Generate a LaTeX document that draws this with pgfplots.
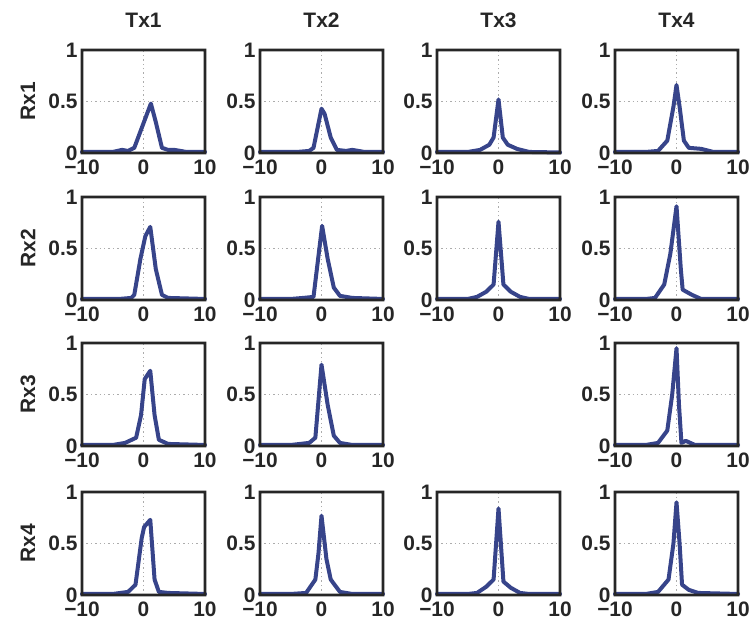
\documentclass[border=0pt]{standalone}
\usepackage{fontspec}
\setmainfont{Liberation Sans}
\usepackage{pgfplots}
\pgfplotsset{compat=1.18}
\definecolor{curve}{RGB}{55,68,138}
\tikzset{cv/.style={draw=curve, line width=4bp, line join=round, line cap=round, mark=none}}
\pgfplotsset{panel/.style={
  scale only axis, width=123bp, height=103bp,
  xmin=-10, xmax=10, ymin=0, ymax=1,
  xtick={-10,0,10}, ytick={0,0.5,1},
  xticklabels={−10,0,10}, yticklabels={0,0.5,1},
  grid=major, major grid style={line width=1.4bp, dash pattern=on 1.4bp off 3bp, gray!65},
  major tick length=0pt,
  axis line style={draw=none},
  tick label style={font=\bfseries\fontsize{21}{21}\selectfont, text=black!85},
  xticklabel style={yshift=-3bp},
  yticklabel style={xshift=-1bp},
  anchor=north west, clip=false,
  after end axis/.code={\fill[black!85, even odd rule]
     ([shift={(-1.4bp,-1.4bp)}]rel axis cs:0,0) rectangle ([shift={(1.4bp,1.4bp)}]rel axis cs:1,1)
     ([shift={(1.4bp,1.4bp)}]rel axis cs:0,0) rectangle ([shift={(-1.4bp,-1.4bp)}]rel axis cs:1,1);},
}}
\begin{document}
\begin{tikzpicture}[x=1bp,y=1bp]
\path[use as bounding box] (0,0) rectangle (756,633);
% Row 1
\begin{axis}[panel, at={(82bp,583bp)}]
\addplot[cv] coordinates {(-10,0.01) (-5,0.01) (-3.5,0.03) (-2.5,0.02) (-1.5,0.05) (1.2,0.48) (2,0.3) (3,0.05) (4,0.03) (5,0.03) (7,0.01) (10,0.01)};
\end{axis}
\begin{axis}[panel, at={(260bp,583bp)}]
\addplot[cv] coordinates {(-10,0.01) (-4,0.01) (-2,0.02) (-1.3,0.05) (0,0.43) (0.5,0.38) (1.5,0.15) (2.5,0.03) (4,0.02) (5,0.03) (7,0.01) (10,0.01)};
\end{axis}
\begin{axis}[panel, at={(437bp,583bp)}]
\addplot[cv] coordinates {(-10,0.01) (-5,0.01) (-3,0.03) (-1.5,0.08) (-0.8,0.15) (0,0.52) (0.7,0.15) (1.5,0.08) (3,0.04) (5,0.01) (10,0.005)};
\end{axis}
\begin{axis}[panel, at={(615bp,583bp)}]
\addplot[cv] coordinates {(-10,0.01) (-5,0.01) (-3,0.02) (-1.5,0.12) (-0.5,0.45) (0,0.66) (0.5,0.45) (1.2,0.12) (2,0.05) (4,0.04) (6,0.01) (10,0.01)};
\end{axis}
% Row 2
\begin{axis}[panel, at={(82bp,436bp)}]
\addplot[cv] coordinates {(-10,0.01) (-4,0.01) (-2,0.02) (-1.5,0.05) (-0.5,0.4) (0.3,0.62) (1.1,0.71) (2,0.3) (3,0.05) (4,0.02) (10,0.01)};
\end{axis}
\begin{axis}[panel, at={(260bp,436bp)}]
\addplot[cv] coordinates {(-10,0.01) (-5,0.01) (-3,0.02) (-1.3,0.03) (0.1,0.72) (1,0.4) (2,0.12) (3,0.04) (5,0.02) (10,0.01)};
\end{axis}
\begin{axis}[panel, at={(437bp,436bp)}]
\addplot[cv] coordinates {(-10,0.01) (-5,0.01) (-3.5,0.03) (-2,0.08) (-0.8,0.15) (0,0.76) (0.8,0.15) (2,0.08) (3.5,0.03) (5,0.01) (10,0.01)};
\end{axis}
\begin{axis}[panel, at={(615bp,436bp)}]
\addplot[cv] coordinates {(-10,0.01) (-5,0.01) (-3.5,0.02) (-2,0.15) (-1,0.45) (0,0.91) (0.7,0.3) (1,0.1) (2.5,0.05) (4,0.01) (10,0.01)};
\end{axis}
% Row 3
\begin{axis}[panel, at={(82bp,290bp)}]
\addplot[cv] coordinates {(-10,0.01) (-5,0.01) (-3,0.03) (-1.2,0.08) (-0.4,0.3) (0.2,0.65) (1.1,0.73) (1.8,0.3) (2.5,0.06) (4,0.02) (10,0.01)};
\end{axis}
\begin{axis}[panel, at={(260bp,290bp)}]
\addplot[cv] coordinates {(-10,0.01) (-5,0.01) (-2,0.03) (-1,0.08) (0,0.79) (1,0.4) (2,0.1) (3,0.03) (5,0.01) (10,0.01)};
\end{axis}
\begin{axis}[panel, at={(615bp,290bp)}]
\addplot[cv] coordinates {(-10,0.01) (-5,0.01) (-3,0.03) (-1.5,0.15) (-0.7,0.5) (0,0.95) (0.4,0.4) (0.8,0.03) (1.5,0.05) (3,0.01) (10,0.01)};
\end{axis}
% Row 4
\begin{axis}[panel, at={(82bp,141bp)}]
\addplot[cv] coordinates {(-10,0.01) (-5,0.01) (-2.5,0.03) (-1.3,0.1) (-0.3,0.55) (0.1,0.66) (1.1,0.73) (1.8,0.15) (2.5,0.03) (4,0.02) (10,0.01)};
\end{axis}
\begin{axis}[panel, at={(260bp,141bp)}]
\addplot[cv] coordinates {(-10,0.01) (-5,0.01) (-2.5,0.02) (-1,0.15) (-0.5,0.4) (0,0.77) (0.8,0.35) (1.5,0.15) (3,0.03) (5,0.01) (10,0.01)};
\end{axis}
\begin{axis}[panel, at={(437bp,141bp)}]
\addplot[cv] coordinates {(-10,0.01) (-5,0.01) (-3.5,0.02) (-2,0.08) (-0.8,0.15) (0,0.84) (0.8,0.13) (2,0.07) (3.5,0.02) (5,0.01) (10,0.01)};
\end{axis}
\begin{axis}[panel, at={(615bp,141bp)}]
\addplot[cv] coordinates {(-10,0.01) (-5,0.01) (-3,0.03) (-1.3,0.15) (-0.5,0.5) (0,0.9) (0.5,0.5) (0.9,0.1) (2,0.05) (3.5,0.02) (10,0.01)};
\end{axis}
% Titles
\begin{scope}[every node/.style={font=\bfseries\fontsize{21}{21}\selectfont, text=black!85}]
\node at (143.5,613) {Tx1};
\node at (321.5,613) {Tx2};
\node at (498.5,613) {Tx3};
\node at (676.5,613) {Tx4};
\node[rotate=90] at (28,531.5) {Rx1};
\node[rotate=90] at (28,384.5) {Rx2};
\node[rotate=90] at (28,238.5) {Rx3};
\node[rotate=90] at (28,89.5) {Rx4};
\end{scope}
\end{tikzpicture}
\end{document}
